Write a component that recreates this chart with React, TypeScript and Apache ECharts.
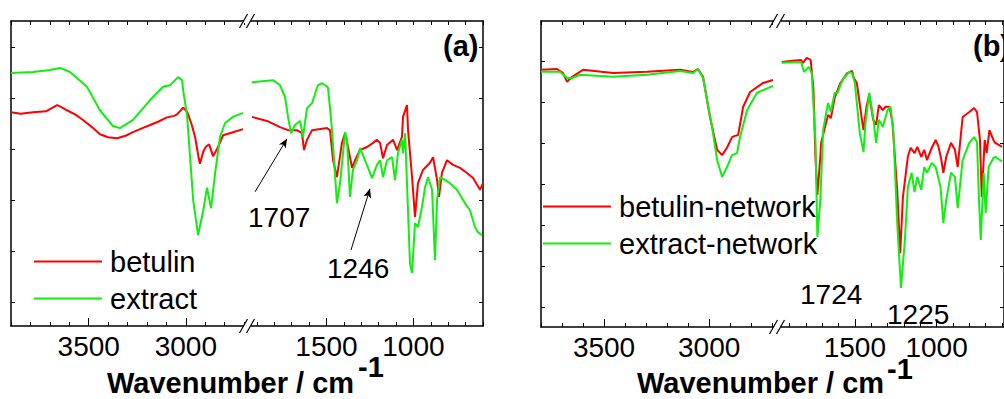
import React, { useEffect, useRef } from "react";
import * as echarts from "echarts";

const FONT = '"Liberation Sans", Arial, Helvetica, sans-serif';
const RED = "#ff0000";
const GREEN = "#11ee11";

// ---------- Panel (a) ----------
const betulinHighA: [number, number][] = [
  [3900, 42.2], [3850, 41.9], [3787, 42.2], [3720, 42.4], [3663, 43.6], [3640, 43.2], [3612, 42.6],
  [3570, 41.8], [3529, 40.7], [3480, 39.2], [3442, 37.9], [3400, 37.3], [3354, 37.1], [3310, 37.6],
  [3272, 38.3], [3230, 39.0], [3184, 39.7], [3140, 40.4], [3097, 41.2], [3060, 41.5], [3045, 41.8],
  [3014, 43.1], [2995, 42.4], [2988, 41.8], [2970, 39.8], [2952, 37.3], [2935, 33.5], [2927, 32.1],
  [2910, 34.5], [2896, 35.5], [2880, 35.9], [2860, 33.6], [2839, 35.0], [2808, 37.7], [2757, 38.3],
  [2705, 38.9],
];
const extractHighA: [number, number][] = [
  [3900, 49.9], [3787, 50.1], [3699, 50.5], [3648, 50.9], [3596, 50.1], [3509, 47.2], [3442, 42.6],
  [3375, 39.5], [3339, 39.1], [3272, 40.7], [3184, 44.6], [3117, 47.2], [3081, 47.5], [3040, 49.1],
  [3019, 48.5], [3014, 46.6], [2994, 41.7], [2978, 33.4], [2962, 25.0], [2937, 18.1], [2910, 23.0],
  [2891, 27.4], [2870, 23.4], [2849, 30.3], [2824, 37.4], [2798, 40.1], [2757, 41.3], [2705, 42.1],
];
const betulinLowA: [number, number][] = [
  [1928, 41.3], [1842, 40.5], [1767, 39.3], [1721, 38.7], [1670, 38.7], [1641, 38.1], [1629, 34.8],
  [1612, 36.8], [1583, 38.7], [1497, 39.1], [1480, 38.7], [1462, 32.8], [1440, 29.5], [1411, 36.2],
  [1393, 38.1], [1376, 35.4], [1353, 31.3], [1336, 32.8], [1307, 34.8], [1267, 35.4], [1232, 36.2],
  [1210, 36.8], [1192, 36.2], [1175, 33.2], [1152, 35.8], [1117, 36.8], [1094, 34.8], [1066, 37.4],
  [1060, 41.3], [1037, 43.6], [1031, 38.7], [1008, 29.5], [991, 21.7], [974, 28.3], [945, 30.9],
  [905, 32.3], [887, 33.4], [864, 28.9], [853, 25.6], [836, 30.3], [807, 32.8], [772, 31.9],
  [732, 31.3], [692, 30.3], [657, 29.3], [617, 27.0], [600, 28.3],
];
const extractLowA: [number, number][] = [
  [1928, 48.1], [1807, 48.5], [1767, 47.5], [1738, 45.2], [1721, 41.3], [1704, 38.1], [1681, 39.7],
  [1652, 40.5], [1635, 37.4], [1612, 43.0], [1583, 44.0], [1549, 47.5], [1526, 47.9], [1503, 47.4],
  [1491, 47.0], [1468, 38.7], [1440, 24.4], [1422, 28.3], [1393, 38.3], [1382, 36.8], [1365, 25.6],
  [1348, 30.9], [1324, 32.8], [1307, 35.2], [1278, 32.8], [1238, 29.3], [1210, 31.9], [1192, 32.8],
  [1175, 29.5], [1152, 32.8], [1123, 33.4], [1106, 28.9], [1089, 34.2], [1066, 36.8], [1060, 34.2],
  [1048, 38.1], [1037, 28.3], [1020, 12.6], [1008, 10.7], [991, 20.5], [974, 19.7], [951, 23.6],
  [933, 27.5], [916, 29.5], [893, 27.0], [876, 13.2], [864, 25.0], [847, 29.5], [818, 28.9],
  [790, 28.3], [750, 27.0], [704, 24.4], [675, 23.0], [646, 19.7], [629, 18.7], [606, 18.1],
];

// ---------- Panel (b) ----------
const betulinNetHigh: [number, number][] = [
  [3800, 62.8], [3724, 63.0], [3695, 62.0], [3676, 59.9], [3652, 61.1], [3600, 62.8], [3457, 62.0],
  [3295, 62.3], [3138, 62.8], [3076, 62.3], [3053, 63.0], [3029, 61.1], [2996, 51.3], [2962, 43.3],
  [2938, 42.0], [2915, 43.8], [2891, 46.4], [2877, 46.7], [2862, 46.9], [2838, 53.8], [2805, 57.4],
  [2743, 59.6], [2696, 60.3],
];
const extractNetHigh: [number, number][] = [
  [3800, 62.3], [3710, 62.3], [3676, 60.8], [3652, 60.8], [3614, 61.6], [3457, 61.1], [3295, 61.6],
  [3138, 62.5], [3076, 62.0], [3053, 63.0], [3029, 60.8], [2986, 48.9], [2962, 40.8], [2938, 36.7],
  [2915, 39.1], [2891, 42.0], [2867, 42.5], [2853, 46.4], [2819, 53.0], [2772, 57.2], [2696, 58.9],
];
const betulinNetLow: [number, number][] = [
  [1947, 64.7], [1882, 65.0], [1829, 65.2], [1817, 64.5], [1794, 65.7], [1770, 65.2], [1753, 57.9],
  [1741, 41.6], [1729, 32.3], [1711, 41.6], [1706, 45.0], [1682, 48.9], [1664, 51.8], [1647, 51.0],
  [1623, 56.0], [1612, 57.2], [1588, 59.6], [1547, 62.0], [1517, 62.5], [1506, 60.8], [1488, 59.6],
  [1459, 51.3], [1447, 48.1], [1429, 53.8], [1412, 56.7], [1388, 50.6], [1370, 49.4], [1353, 54.2],
  [1329, 53.0], [1312, 53.8], [1288, 53.8], [1270, 49.9], [1241, 33.5], [1223, 18.1], [1206, 31.8],
  [1176, 41.6], [1159, 43.8], [1135, 42.5], [1118, 44.0], [1094, 41.6], [1076, 43.3], [1059, 40.8],
  [1035, 43.3], [1006, 45.7], [988, 44.0], [971, 40.8], [959, 37.7], [941, 41.6], [912, 45.0],
  [888, 43.3], [871, 39.1], [841, 51.3], [800, 52.5], [771, 53.5], [753, 52.5], [735, 45.7],
  [724, 31.8], [706, 45.7], [694, 42.5], [677, 48.1], [653, 45.7], [641, 45.0], [620, 44.5], [600, 44.0],
];
const extractNetLow: [number, number][] = [
  [1947, 64.5], [1829, 64.7], [1811, 62.3], [1782, 63.5], [1764, 62.0], [1741, 45.7], [1729, 22.0],
  [1711, 31.1], [1694, 48.1], [1664, 54.7], [1647, 52.5], [1623, 57.2], [1606, 57.2], [1576, 60.3],
  [1535, 62.3], [1517, 62.0], [1500, 59.6], [1470, 47.4], [1447, 42.8], [1435, 49.9], [1412, 57.2],
  [1388, 51.3], [1370, 45.0], [1353, 50.6], [1329, 48.9], [1300, 53.0], [1282, 53.8], [1265, 48.1],
  [1241, 25.5], [1218, 9.6], [1194, 21.3], [1176, 34.2], [1153, 37.7], [1135, 33.0], [1118, 36.7],
  [1094, 33.5], [1076, 39.1], [1059, 37.7], [1029, 40.1], [1006, 39.1], [976, 34.2], [959, 25.5],
  [941, 31.1], [912, 37.7], [888, 36.7], [871, 29.1], [841, 40.8], [800, 45.0], [771, 46.4],
  [753, 45.2], [741, 31.1], [730, 21.3], [712, 37.7], [700, 27.9], [682, 39.1], [653, 41.3],
  [641, 41.6], [620, 41.0], [600, 40.5],
];

// ---------- Ticks ----------
const ticksHigh = [3900, 3800, 3700, 3600, 3500, 3400, 3300, 3200, 3100, 3000, 2900, 2800, 2700];
const labelsHigh = [3500, 3000];
const ticksLow = [1900, 1800, 1700, 1600, 1500, 1400, 1300, 1200, 1100, 1000, 900, 800, 700, 600];
const labelsLow = [1500, 1000];
const yTicksA = [5, 15, 25, 35, 45, 55];
const yTicksB = [5, 15, 25, 35, 45, 55, 65];

// annotation arrows (data coordinates, panel a low-wavenumber segment)
const arrow1707: [number, number][] = [[1911, 26.6], [1727, 37.0]];
const arrow1246: [number, number][] = [[1359, 15.2], [1250, 27.2]];

const AXIS_LINE = { color: "#000", width: 1.5 };

function xAxes(gridIndex: number, min: number, max: number, ticks: number[], labels: number[]) {
  const common = { type: "value", gridIndex, min, max, inverse: true, splitLine: { show: false } };
  return [
    {
      ...common,
      position: "bottom",
      axisLine: { show: true, onZero: false, lineStyle: AXIS_LINE },
      axisTick: { show: true, inside: true, length: 4, customValues: ticks, lineStyle: { color: "#000", width: 1 } },
      axisLabel: {
        show: true,
        customValues: labels,
        margin: 6,
        fontSize: 28,
        color: "#000",
        fontFamily: FONT,
        formatter: (v: number) => String(v),
      },
    },
    {
      ...common,
      position: "bottom",
      axisLine: { show: false, onZero: false },
      axisTick: { show: true, inside: true, length: 8, customValues: labels, lineStyle: { color: "#000", width: 1 } },
      axisLabel: { show: false },
    },
    {
      ...common,
      position: "top",
      axisLine: { show: true, onZero: false, lineStyle: AXIS_LINE },
      axisTick: { show: true, inside: true, length: 4, customValues: ticks, lineStyle: { color: "#000", width: 1 } },
      axisLabel: { show: false },
    },
  ];
}

function yAxis(gridIndex: number, min: number, max: number, position: string, ticks: number[]) {
  return {
    type: "value",
    gridIndex,
    min,
    max,
    position,
    splitLine: { show: false },
    axisLine: { show: true, onZero: false, lineStyle: AXIS_LINE },
    axisTick: { show: true, inside: true, length: 4, customValues: ticks, lineStyle: { color: "#000", width: 1 } },
    axisLabel: { show: false },
  };
}

function line(name: string, data: [number, number][], grid: number, color: string, extra: any = {}) {
  return {
    type: "line",
    name,
    data,
    xAxisIndex: grid * 3,
    yAxisIndex: grid,
    symbol: "none",
    showSymbol: false,
    lineStyle: { color, width: 2 },
    itemStyle: { color },
    ...extra,
  };
}

function breakMark(cx: number, y: number) {
  return [
    { type: "rect", z: 100, shape: { x: cx - 3.5, y: y - 2, width: 7, height: 4 }, style: { fill: "#fff" } },
    { type: "line", z: 101, shape: { x1: cx - 8, y1: y + 7, x2: cx, y2: y - 7 }, style: { stroke: "#000", lineWidth: 1.2 } },
    { type: "line", z: 101, shape: { x1: cx - 1, y1: y + 7, x2: cx + 7, y2: y - 7 }, style: { stroke: "#000", lineWidth: 1.2 } },
  ];
}

function txt(text: string, x: number, y: number, size: number, bold = false) {
  return {
    type: "text",
    z: 100,
    x,
    y,
    style: {
      text,
      fontSize: size,
      fontFamily: FONT,
      fontWeight: bold ? "bold" : "normal",
      fill: "#000",
      align: "left",
      verticalAlign: "middle",
    },
  };
}

const arrowMarkLine = {
  silent: true,
  symbol: ["none", "arrow"],
  symbolSize: [6, 9],
  lineStyle: { color: "#000", width: 1, type: "solid" },
  label: { show: false },
  data: [
    [{ coord: arrow1707[0] }, { coord: arrow1707[1] }],
    [{ coord: arrow1246[0] }, { coord: arrow1246[1] }],
  ],
};

const legendText = { fontSize: 29, lineHeight: 29, color: "#000", fontFamily: FONT, padding: [0, 0, 0, 3] };

const legendCommon = {
  orient: "vertical",
  icon: "rect",
  itemWidth: 68,
  itemHeight: 2,
  itemGap: 8,
  padding: 0,
  textStyle: legendText,
  selectedMode: false,
};

const option: any = {
  animation: false,
  backgroundColor: "#fff",
  grid: [
    { left: 11, top: 21, width: 236, height: 305 },
    { left: 247, top: 21, width: 236, height: 305 },
    { left: 541, top: 21, width: 236, height: 306 },
    { left: 777, top: 21, width: 236, height: 306 },
  ],
  xAxis: [
    ...xAxes(0, 2685, 3900, ticksHigh, labelsHigh),
    ...xAxes(1, 600, 1957, ticksLow, labelsLow),
    ...xAxes(2, 2677, 3800, ticksHigh, labelsHigh),
    ...xAxes(3, 588, 1976, ticksLow, labelsLow),
  ],
  yAxis: [
    yAxis(0, 0.3, 60.1, "left", yTicksA),
    yAxis(1, 0.3, 60.1, "right", yTicksA),
    yAxis(2, 0.1, 74.7, "left", yTicksB),
    yAxis(3, 0.1, 74.7, "right", yTicksB),
  ],
  legend: [
    { ...legendCommon, data: ["betulin", "extract"], left: 34, top: 247 },
    { ...legendCommon, data: ["betulin-network", "extract-network"], left: 543, top: 192 },
  ],
  series: [
    line("betulin", betulinHighA, 0, RED),
    line("extract", extractHighA, 0, GREEN),
    line("betulin", betulinLowA, 1, RED),
    line("extract", extractLowA, 1, GREEN, { markLine: arrowMarkLine }),
    line("betulin-network", betulinNetHigh, 2, RED),
    line("extract-network", extractNetHigh, 2, GREEN),
    line("betulin-network", betulinNetLow, 3, RED),
    line("extract-network", extractNetLow, 3, GREEN),
  ],
  graphic: [
    ...breakMark(247.5, 21),
    ...breakMark(247.5, 326),
    ...breakMark(777.5, 21),
    ...breakMark(777.5, 327),
    txt("(a)", 443, 46, 29, true),
    txt("(b)", 973, 46, 29, true),
    txt("1707", 248, 217, 28),
    txt("1246", 327, 268, 28),
    txt("1724", 800, 294, 28),
    txt("1225", 887, 314, 28),
    txt("Wavenumber / cm", 107, 383, 29, true),
    txt("-1", 358, 367, 29, true),
    txt("Wavenumber / cm", 637, 383, 29, true),
    txt("-1", 887, 369, 29, true),
  ],
};

export default function App() {
  const ref = useRef<HTMLDivElement>(null);
  useEffect(() => {
    if (!ref.current) return;
    const chart = echarts.init(ref.current, null, { renderer: "svg" });
    chart.setOption(option);
    return () => chart.dispose();
  }, []);
  return (
    <div
      ref={ref}
      style={{ position: "fixed", left: 0, top: 0, width: 1004, height: 399, background: "#fff" }}
    />
  );
}
